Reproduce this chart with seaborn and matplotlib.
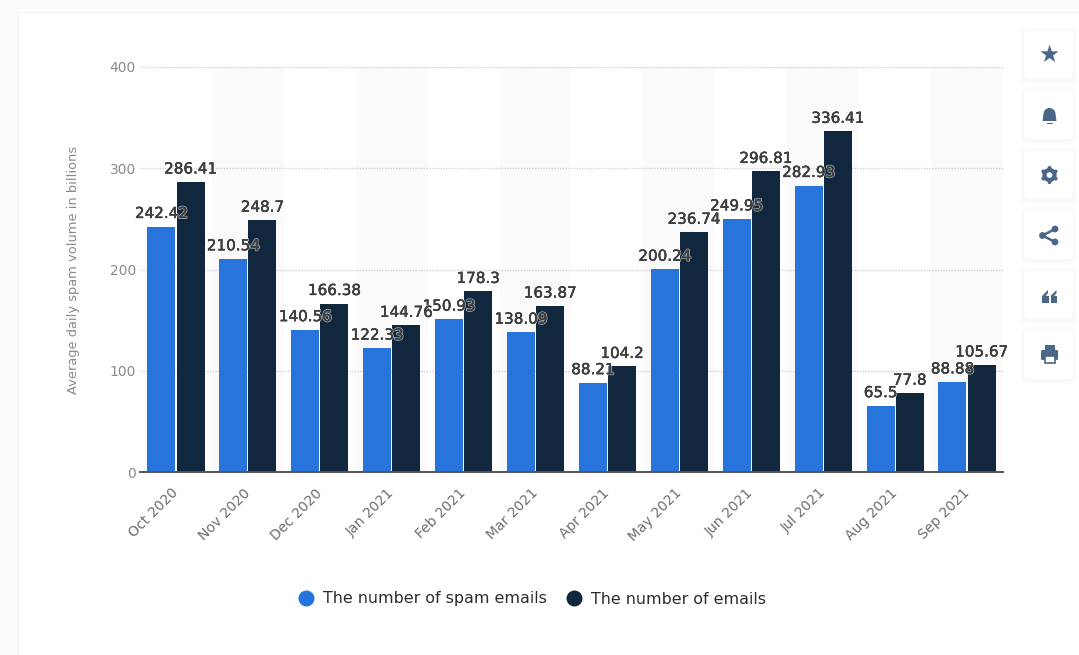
import matplotlib
matplotlib.use("Agg")
import matplotlib.pyplot as plt
import matplotlib.patheffects as pe
from matplotlib.lines import Line2D
from matplotlib.patches import Circle, FancyBboxPatch, Polygon, Rectangle, Wedge
from matplotlib.transforms import ScaledTranslation
import pandas as pd
import seaborn as sns

months = ["Oct 2020", "Nov 2020", "Dec 2020", "Jan 2021", "Feb 2021", "Mar 2021",
          "Apr 2021", "May 2021", "Jun 2021", "Jul 2021", "Aug 2021", "Sep 2021"]
spam_emails = [242.42, 210.54, 140.56, 122.33, 150.93, 138.09,
               88.21, 200.24, 249.95, 282.93, 65.5, 88.88]
all_emails = [286.41, 248.7, 166.38, 144.76, 178.3, 163.87,
              104.2, 236.74, 296.81, 336.41, 77.8, 105.67]
series_names = ["The number of spam emails", "The number of emails"]
y_ticks = [0, 100, 200, 300, 400]
y_title = "Average daily spam volume in billions"

BLUE = "#2774dd"
NAVY = "#10273e"
ICON = "#4a6688"
W, H = 1079, 655

sns.set_theme(style="white")
plt.rcParams["font.family"] = ["DejaVu Sans"]

table = pd.DataFrame({
    "month": months * 2,
    "value": spam_emails + all_emails,
    "series": [series_names[0]] * len(months) + [series_names[1]] * len(months),
})

fig = plt.figure(figsize=(W / 100, H / 100), dpi=100, facecolor="#fbfbfc")

# Pixel-space layer for the card and the toolbar on the right
page = fig.add_axes([0, 0, 1, 1], zorder=0)
page.set_xlim(0, W)
page.set_ylim(H, 0)
page.axis("off")
page.add_patch(Rectangle((18, 12), 1100, 700, fc="white", ec="#f3f4f6", lw=1))

for top in [30, 90, 150, 210, 270, 330]:
    for grow, alpha in [(4, 0.15), (2, 0.25)]:
        page.add_patch(FancyBboxPatch((1024 - grow, top - grow + 1), 49 + 2 * grow, 49 + 2 * grow,
                                      boxstyle="round,pad=0,rounding_size=6",
                                      fc="#eef0f3", ec="none", alpha=alpha))
    page.add_patch(FancyBboxPatch((1024, top), 49, 49, boxstyle="round,pad=0,rounding_size=5",
                                  fc="white", ec="none"))

cx = 1049.5
page.text(cx, 55, "★", color=ICON, fontsize=17, ha="center", va="center")

# Bell
page.add_patch(Wedge((cx, 114), 6, 180, 360, fc=ICON, ec="none"))
page.add_patch(Polygon([(cx - 6, 114), (cx + 6, 114), (cx + 7, 121), (cx - 7, 121)], fc=ICON, ec="none"))
page.add_patch(Rectangle((cx - 3, 122.5), 6, 1.2, fc=ICON, ec="none"))

# Gear
page.add_patch(Circle((cx, 175), 5.0, fc="none", ec=ICON, lw=3.0))
for dx, dy in [(0, -7.2), (0, 7.2), (-6.2, -3.6), (6.2, -3.6), (-6.2, 3.6), (6.2, 3.6)]:
    page.add_patch(Circle((cx + dx, 175 + dy), 1.9, fc=ICON, ec="none"))

# Share
nodes = [(cx - 7, 235.5), (cx + 5.5, 229), (cx + 5.5, 242)]
page.add_line(Line2D([nodes[1][0], nodes[0][0], nodes[2][0]], [nodes[1][1], nodes[0][1], nodes[2][1]],
                     color=ICON, lw=1.8))
for node in nodes:
    page.add_patch(Circle(node, 3.4, fc=ICON, ec="none"))

# Quotation marks
for qx in [cx - 7.5, cx + 1]:
    page.add_patch(Rectangle((qx, 296), 6.5, 7, fc=ICON, ec="none"))
    page.add_patch(Polygon([(qx, 296), (qx + 6, 290), (qx + 6, 293), (qx + 3, 297)], fc=ICON, ec="none"))

# Printer
page.add_patch(Rectangle((cx - 5, 345), 10, 6, fc=ICON, ec="none"))
page.add_patch(FancyBboxPatch((cx - 8.5, 350), 17, 10, boxstyle="round,pad=0,rounding_size=1.5", fc=ICON, ec="none"))
page.add_patch(Rectangle((cx - 5, 356), 10, 7, fc="white", ec=ICON, lw=1.2))

# Main chart
left, right, top, bottom = 140, 1003, 67, 472
ax = fig.add_axes([left / W, 1 - bottom / H, (right - left) / W, (bottom - top) / H],
                  facecolor="none", zorder=1)
sns.barplot(data=table, x="month", y="value", hue="series", order=months, hue_order=series_names,
            palette=[BLUE, NAVY], width=0.81, gap=0.04, linewidth=0, saturation=1,
            legend=False, ax=ax, zorder=3)

ax.set_xlim(-0.5, len(months) - 0.5)
ax.set_ylim(0, 400)
ax.set_yticks(y_ticks)
ax.set_xlabel("")
ax.set_ylabel(y_title, color="#8a8a8a", fontsize=9.4, labelpad=0)
ax.yaxis.set_label_coords(-60 / (right - left), 0.5)

# Alternate month bands behind the bars
for i in range(1, len(months), 2):
    ax.axvspan(i - 0.5, i + 0.5, color="#fafafa", lw=0, zorder=0)

ax.grid(axis="y", color="#d2d2d2", linestyle=(0, (1, 1)), linewidth=1, zorder=1)
ax.set_axisbelow(True)

for side in ["top", "right", "left"]:
    ax.spines[side].set_visible(False)
ax.spines["bottom"].set_color("#555555")
ax.spines["bottom"].set_linewidth(1.4)
ax.spines["bottom"].set_zorder(4)

ax.tick_params(axis="y", length=0, pad=3, labelsize=10, labelcolor="#8a8a8a")
ax.tick_params(axis="x", length=0, pad=10, labelsize=10, labelcolor="#6e6e6e")
ax.set_xticks(range(len(months)))
ax.set_xticklabels(months, rotation=45, ha="right", rotation_mode="anchor")
nudge = ScaledTranslation(-5 / 100, 0, fig.dpi_scale_trans)
for tick_label in ax.get_xticklabels():
    tick_label.set_transform(tick_label.get_transform() + nudge)

for bars in ax.containers:
    for label in ax.bar_label(bars, fmt="%g", padding=4, fontsize=10.9, color="#3f3f3f", zorder=6):
        label.set_path_effects([pe.withStroke(linewidth=1.5, foreground="white", alpha=0.6),
                                pe.withStroke(linewidth=0.25, foreground="#3f3f3f")])

handles = [Line2D([], [], linestyle="none", marker="o", markersize=11.5, color=c, markeredgewidth=0)
           for c in [BLUE, NAVY]]
ax.legend(handles, series_names, ncol=2, frameon=False, fontsize=11.4, labelcolor="#2b2b2b",
          loc="center", bbox_to_anchor=((531 - left) / (right - left), (472 - 599) / (bottom - top)),
          handletextpad=0.47, columnspacing=1.1, handlelength=1.2)

fig.savefig("out.png", dpi=100, facecolor=fig.get_facecolor())
